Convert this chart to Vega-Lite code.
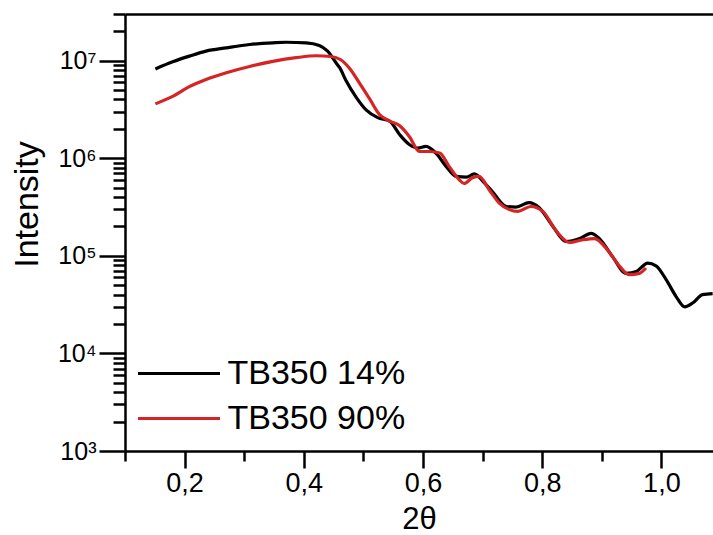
{
  "$schema": "https://vega.github.io/schema/vega-lite/v6.json",
  "autosize": "none",
  "width": 588,
  "height": 437,
  "padding": {"left": 125, "top": 14, "right": 0, "bottom": 84},
  "background": "white",
  "config": {"view": {"stroke": null}, "font": "Liberation Sans"},
  "data": {"values": [
    {"x": 0.151, "y": 8200000, "s": "TB350 14%"},
    {"x": 0.180, "y": 9700000, "s": "TB350 14%"},
    {"x": 0.208, "y": 11100000, "s": "TB350 14%"},
    {"x": 0.236, "y": 12500000, "s": "TB350 14%"},
    {"x": 0.270, "y": 13500000, "s": "TB350 14%"},
    {"x": 0.309, "y": 14600000, "s": "TB350 14%"},
    {"x": 0.348, "y": 15200000, "s": "TB350 14%"},
    {"x": 0.370, "y": 15400000, "s": "TB350 14%"},
    {"x": 0.404, "y": 15200000, "s": "TB350 14%"},
    {"x": 0.426, "y": 14300000, "s": "TB350 14%"},
    {"x": 0.440, "y": 12500000, "s": "TB350 14%"},
    {"x": 0.454, "y": 9500000, "s": "TB350 14%"},
    {"x": 0.460, "y": 8500000, "s": "TB350 14%"},
    {"x": 0.471, "y": 6200000, "s": "TB350 14%"},
    {"x": 0.488, "y": 4200000, "s": "TB350 14%"},
    {"x": 0.505, "y": 3100000, "s": "TB350 14%"},
    {"x": 0.524, "y": 2600000, "s": "TB350 14%"},
    {"x": 0.544, "y": 2400000, "s": "TB350 14%"},
    {"x": 0.561, "y": 1740000, "s": "TB350 14%"},
    {"x": 0.577, "y": 1380000, "s": "TB350 14%"},
    {"x": 0.591, "y": 1270000, "s": "TB350 14%"},
    {"x": 0.605, "y": 1320000, "s": "TB350 14%"},
    {"x": 0.622, "y": 1120000, "s": "TB350 14%"},
    {"x": 0.639, "y": 820000, "s": "TB350 14%"},
    {"x": 0.656, "y": 650000, "s": "TB350 14%"},
    {"x": 0.673, "y": 640000, "s": "TB350 14%"},
    {"x": 0.686, "y": 690000, "s": "TB350 14%"},
    {"x": 0.703, "y": 560000, "s": "TB350 14%"},
    {"x": 0.717, "y": 450000, "s": "TB350 14%"},
    {"x": 0.740, "y": 320000, "s": "TB350 14%"},
    {"x": 0.756, "y": 315000, "s": "TB350 14%"},
    {"x": 0.778, "y": 350000, "s": "TB350 14%"},
    {"x": 0.795, "y": 310000, "s": "TB350 14%"},
    {"x": 0.818, "y": 200000, "s": "TB350 14%"},
    {"x": 0.840, "y": 140000, "s": "TB350 14%"},
    {"x": 0.863, "y": 150000, "s": "TB350 14%"},
    {"x": 0.882, "y": 170000, "s": "TB350 14%"},
    {"x": 0.896, "y": 150000, "s": "TB350 14%"},
    {"x": 0.918, "y": 98000, "s": "TB350 14%"},
    {"x": 0.941, "y": 66000, "s": "TB350 14%"},
    {"x": 0.958, "y": 69000, "s": "TB350 14%"},
    {"x": 0.977, "y": 84000, "s": "TB350 14%"},
    {"x": 0.991, "y": 79000, "s": "TB350 14%"},
    {"x": 1.008, "y": 57000, "s": "TB350 14%"},
    {"x": 1.025, "y": 38000, "s": "TB350 14%"},
    {"x": 1.039, "y": 30000, "s": "TB350 14%"},
    {"x": 1.053, "y": 33000, "s": "TB350 14%"},
    {"x": 1.069, "y": 40000, "s": "TB350 14%"},
    {"x": 1.086, "y": 41000, "s": "TB350 14%"},
    {"x": 0.151, "y": 3600000, "s": "TB350 90%"},
    {"x": 0.180, "y": 4300000, "s": "TB350 90%"},
    {"x": 0.208, "y": 5400000, "s": "TB350 90%"},
    {"x": 0.236, "y": 6400000, "s": "TB350 90%"},
    {"x": 0.270, "y": 7500000, "s": "TB350 90%"},
    {"x": 0.309, "y": 8700000, "s": "TB350 90%"},
    {"x": 0.348, "y": 9800000, "s": "TB350 90%"},
    {"x": 0.387, "y": 10700000, "s": "TB350 90%"},
    {"x": 0.421, "y": 11200000, "s": "TB350 90%"},
    {"x": 0.445, "y": 11000000, "s": "TB350 90%"},
    {"x": 0.462, "y": 10200000, "s": "TB350 90%"},
    {"x": 0.477, "y": 8300000, "s": "TB350 90%"},
    {"x": 0.494, "y": 5800000, "s": "TB350 90%"},
    {"x": 0.511, "y": 4000000, "s": "TB350 90%"},
    {"x": 0.527, "y": 2800000, "s": "TB350 90%"},
    {"x": 0.544, "y": 2400000, "s": "TB350 90%"},
    {"x": 0.561, "y": 2150000, "s": "TB350 90%"},
    {"x": 0.577, "y": 1670000, "s": "TB350 90%"},
    {"x": 0.594, "y": 1170000, "s": "TB350 90%"},
    {"x": 0.611, "y": 1170000, "s": "TB350 90%"},
    {"x": 0.628, "y": 1130000, "s": "TB350 90%"},
    {"x": 0.644, "y": 820000, "s": "TB350 90%"},
    {"x": 0.661, "y": 600000, "s": "TB350 90%"},
    {"x": 0.669, "y": 550000, "s": "TB350 90%"},
    {"x": 0.683, "y": 630000, "s": "TB350 90%"},
    {"x": 0.694, "y": 650000, "s": "TB350 90%"},
    {"x": 0.711, "y": 475000, "s": "TB350 90%"},
    {"x": 0.728, "y": 347000, "s": "TB350 90%"},
    {"x": 0.745, "y": 297000, "s": "TB350 90%"},
    {"x": 0.759, "y": 285000, "s": "TB350 90%"},
    {"x": 0.781, "y": 320000, "s": "TB350 90%"},
    {"x": 0.801, "y": 285000, "s": "TB350 90%"},
    {"x": 0.824, "y": 178000, "s": "TB350 90%"},
    {"x": 0.846, "y": 137000, "s": "TB350 90%"},
    {"x": 0.868, "y": 146000, "s": "TB350 90%"},
    {"x": 0.888, "y": 150000, "s": "TB350 90%"},
    {"x": 0.907, "y": 120000, "s": "TB350 90%"},
    {"x": 0.930, "y": 78000, "s": "TB350 90%"},
    {"x": 0.946, "y": 64000, "s": "TB350 90%"},
    {"x": 0.963, "y": 66000, "s": "TB350 90%"},
    {"x": 0.974, "y": 75000, "s": "TB350 90%"}
  ]},
  "encoding": {
    "x": {
      "field": "x", "type": "quantitative",
      "scale": {"domain": [0.1, 1.0866], "nice": false, "zero": false},
      "axis": {
        "orient": "bottom",
        "values": [0.1, 0.2, 0.3, 0.4, 0.5, 0.6, 0.7, 0.8, 0.9, 1.0],
        "labelExpr": "round(datum.value*10)%2==0 ? replace(format(datum.value,'.1f'),'.',',') : ''",
        "tickSize": 17,
        "tickDash": {"condition": {"test": "round(datum.value*10)%2==0", "value": [17, 0]}, "value": [10, 40]},
        "grid": false,
        "domainColor": "black", "domainWidth": 2.5,
        "tickColor": "black", "tickWidth": 2.5,
        "labelFont": "Liberation Sans", "labelFontSize": 27, "labelColor": "black",
        "labelPadding": 2, "labelFlush": false, "labelOverlap": false,
        "title": "2θ", "titleFont": "Liberation Sans", "titleFontSize": 31,
        "titleFontWeight": "normal", "titleColor": "black",
        "titleBaseline": "alphabetic", "titleY": 77
      }
    },
    "y": {
      "field": "y", "type": "quantitative",
      "scale": {"type": "log", "domain": [1000, 30000000], "nice": false},
      "axis": {
        "values": [1000, 2000, 3000, 4000, 5000, 6000, 7000, 8000, 9000,
                   10000, 20000, 30000, 40000, 50000, 60000, 70000, 80000, 90000,
                   100000, 200000, 300000, 400000, 500000, 600000, 700000, 800000, 900000,
                   1000000, 2000000, 3000000, 4000000, 5000000, 6000000, 7000000, 8000000, 9000000,
                   10000000, 20000000, 30000000],
        "labelExpr": "abs(log(datum.value)/LN10 - round(log(datum.value)/LN10)) < 0.001 ? '10' + substring('⁰¹²³⁴⁵⁶⁷⁸⁹', round(log(datum.value)/LN10), round(log(datum.value)/LN10)+1) : ''",
        "tickSize": 26,
        "tickDash": {"condition": {"test": "abs(log(datum.value)/LN10 - round(log(datum.value)/LN10)) < 0.001", "value": [26, 0]}, "value": [12, 40]},
        "grid": false,
        "domainColor": "black", "domainWidth": 2.5,
        "tickColor": "black", "tickWidth": 2.5,
        "labelFont": "Liberation Sans", "labelFontSize": 25, "labelColor": "black",
        "labelPadding": 3, "labelFlush": false, "labelOverlap": false,
        "title": "Intensity", "titleFont": "Liberation Sans", "titleFontSize": 34,
        "titleFontWeight": "normal", "titleColor": "black",
        "titleBaseline": "alphabetic", "titleX": -88, "titleY": 190, "titleAlign": "center"
      }
    },
    "color": {
      "field": "s", "type": "nominal",
      "scale": {"domain": ["TB350 14%", "TB350 90%"], "range": ["#000000", "#d42424"]},
      "legend": {
        "orient": "none", "legendX": 31.5, "legendY": 337,
        "title": null, "symbolType": "M-2,0H2", "symbolSize": 1681,
        "symbolStrokeWidth": 3.2, "labelFont": "Liberation Sans", "labelFontSize": 34,
        "labelColor": "black", "labelOffset": 26, "labelLimit": 400, "rowPadding": 5, "padding": 0
      }
    }
  },
  "resolve": {"axis": {"x": "independent"}},
  "layer": [
    {
      "transform": [{"filter": "datum.s == 'TB350 14%'"}],
      "mark": {"type": "line", "strokeWidth": 3.2, "interpolate": "monotone", "clip": true}
    },
    {
      "transform": [{"filter": "datum.s == 'TB350 90%'"}],
      "mark": {"type": "line", "strokeWidth": 3.2, "interpolate": "monotone", "clip": true},
      "encoding": {
        "x": {
          "field": "x", "type": "quantitative",
          "scale": {"domain": [0.1, 1.0866], "nice": false, "zero": false},
          "axis": {"orient": "top", "labels": false, "ticks": false, "title": null, "grid": false,
                   "domainColor": "black", "domainWidth": 2.5}
        }
      }
    }
  ]
}
